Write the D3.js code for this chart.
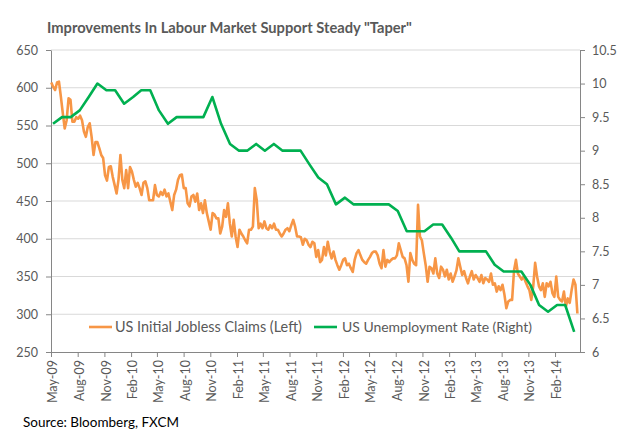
<!DOCTYPE html>
<html><head><meta charset="utf-8">
<script src="https://cdn.jsdelivr.net/npm/d3@7"></script>
<style>body{margin:0;background:#fff;} svg{display:block;font-family:Lato,"Open Sans",sans-serif;}</style>
</head><body><svg id="c" width="624" height="443"></svg>
<script>
const titleText = 'Improvements In Labour Market Support Steady "Taper"';
const sourceText = "Source: Bloomberg, FXCM";
const seriesNames = ["US Initial Jobless Claims (Left)", "US Unemployment Rate (Right)"];

// weekly initial jobless claims (thousands), first and last week
const claimsFirstWeek = "2009-05-02", claimsLastWeek = "2014-04-19";
const claims = [
607,601,597,607,608,588,566,546,557,586,584,555,555,561,559,563,557,542,535,548,553,535,511,528,528,520,511,507,484,477,495,496,482,471,460,478,511,478,467,491,467,495,489,478,469,474,467,458,474,476,467,451,451,451,471,458,456,462,458,465,456,460,449,438,458,465,478,484,485,467,467,447,
443,456,458,449,460,438,447,434,451,434,423,412,434,432,427,427,407,416,438,429,447,420,403,425,403,389,412,407,403,398,394,412,412,416,467,451,414,420,414,423,414,412,418,414,420,412,412,407,403,407,412,414,410,418,425,416,403,403,402,392,400,398,392,389,396,394,376,
385,369,372,389,378,396,383,374,383,372,365,359,365,372,374,365,367,361,356,372,381,385,378,372,369,367,372,376,381,383,383,378,367,361,385,363,372,369,372,374,374,378,394,385,376,374,365,343,381,372,367,365,445,403,398,381,365,343,363,361,354,374,354,348,363,359,350,359,346,
354,343,350,358,374,363,352,357,348,341,350,357,346,352,348,343,352,341,348,346,343,354,339,341,330,337,332,339,326,308,317,319,319,358,372,354,350,346,350,343,337,332,319,337,368,350,337,332,341,323,341,337,343,328,323,350,323,319,317,330,310,321,315,332,346,339,301
];

// monthly unemployment rate (%), May 2009 - Apr 2014
const unempFirstMonth = "2009-05-08";
const unemp = [
9.4,9.5,9.5,9.6,9.8,10.0,9.9,9.9,
9.7,9.8,9.9,9.9,9.6,9.4,9.5,9.5,9.5,9.5,9.8,9.4,
9.1,9.0,9.0,9.1,9.0,9.1,9.0,9.0,9.0,8.8,8.6,8.5,
8.2,8.3,8.2,8.2,8.2,8.2,8.2,8.1,7.8,7.8,7.8,7.9,
7.9,7.7,7.5,7.5,7.5,7.5,7.3,7.2,7.2,7.2,7.0,6.7,
6.6,6.7,6.7,6.3
];

const xTickLabels = ["May-09","Aug-09","Nov-09","Feb-10","May-10","Aug-10","Nov-10","Feb-11","May-11","Aug-11","Nov-11","Feb-12","May-12","Aug-12","Nov-12","Feb-13","May-13","Aug-13","Nov-13","Feb-14"];
const leftTicks = [250,300,350,400,450,500,550,600,650];
const rightTicks = [6,6.5,7,7.5,8,8.5,9,9.5,10,10.5];
const xDomainDates = ["2009-05-01","2014-04-28"];

const pDay = d3.timeParse("%Y-%m-%d");
const pTick = d3.timeParse("%b-%y");

const svg = d3.select("#c");
const L = 51, R = 580, T = 50, B = 352;
const x = d3.scaleTime().domain(xDomainDates.map(pDay)).range([L, R]);
const yL = d3.scaleLinear().domain([250, 650]).range([B, T]);
const yR = d3.scaleLinear().domain([6, 10.5]).range([B, T]);

const c0 = pDay(claimsFirstWeek), c1 = pDay(claimsLastWeek);
const claimsData = claims.map((v, i) => ({d: new Date(+c0 + (c1 - c0) * i / (claims.length - 1)), v}));
const u0 = pDay(unempFirstMonth);
const unempData = unemp.map((v, i) => ({d: d3.timeMonth.offset(u0, i), v}));

const textCol = "#595959", axisCol = "#868686", gridCol = "#d9d9d9";
const orange = "#F79646", green = "#00B050";

function fit(sel, w) {
  const fs = parseFloat(sel.attr("font-size"));
  const l = sel.node().getComputedTextLength();
  sel.attr("font-size", (fs * w / l).toFixed(2));
}

// gridlines
svg.append("g").selectAll("line").data(leftTicks.filter(t => t !== 250)).join("line")
  .attr("x1", L).attr("x2", R).attr("y1", d => yL(d)).attr("y2", d => yL(d))
  .attr("stroke", gridCol).attr("stroke-width", 1);

// axes
const gL = svg.append("g").attr("transform", `translate(${L},0)`)
  .call(d3.axisLeft(yL).tickValues(leftTicks).tickSize(5).tickSizeOuter(0).tickPadding(8));
const gR = svg.append("g").attr("transform", `translate(${R},0)`)
  .call(d3.axisRight(yR).tickValues(rightTicks).tickFormat(d3.format("")).tickSize(5).tickSizeOuter(0).tickPadding(7));
const gB = svg.append("g").attr("transform", `translate(0,${B})`)
  .call(d3.axisBottom(x).tickValues(xTickLabels.map(pTick)).tickFormat((d, i) => xTickLabels[i]).tickSize(5).tickSizeOuter(0));
[gL, gR, gB].forEach(g => {
  g.select(".domain").attr("stroke", axisCol);
  g.selectAll(".tick line").attr("stroke", axisCol);
  g.selectAll("text").attr("fill", textCol).attr("font-size", 12.5).attr("font-family", "Lato");
});
gB.selectAll("text").attr("text-anchor", "end").attr("transform", "rotate(-90)")
  .attr("x", -8).attr("y", 0).attr("dy", "0.45em");

// lines
svg.append("path").datum(claimsData)
  .attr("d", d3.line().x(d => x(d.d)).y(d => yL(d.v)))
  .attr("fill", "none").attr("stroke", orange).attr("stroke-width", 2.6).attr("stroke-linejoin", "round");
svg.append("path").datum(unempData)
  .attr("d", d3.line().x(d => x(d.d)).y(d => yR(d.v)))
  .attr("fill", "none").attr("stroke", green).attr("stroke-width", 2.6).attr("stroke-linejoin", "round");

// legend
const legY = 327;
const leg = [{name: seriesNames[0], col: orange, x0: 89, tx: 115, w: 187},
             {name: seriesNames[1], col: green, x0: 314, tx: 342, w: 190}];
leg.forEach(it => {
  svg.append("line").attr("x1", it.x0).attr("x2", it.x0 + 23).attr("y1", legY).attr("y2", legY)
    .attr("stroke", it.col).attr("stroke-width", 2.6);
  const t = svg.append("text").attr("x", it.tx).attr("y", legY).attr("dy", "0.35em")
    .attr("font-size", 14).attr("fill", textCol).text(it.name);
  fit(t, it.w);
});

// title
const tt = svg.append("text").attr("x", 47).attr("y", 33).attr("font-size", 18)
  .attr("font-weight", "bold").attr("fill", textCol).text(titleText);
fit(tt, 365);

// source
const st = svg.append("text").attr("x", 23).attr("y", 427).attr("font-size", 14)
  .attr("fill", "#000").text(sourceText);
fit(st, 156);
</script></body></html>
